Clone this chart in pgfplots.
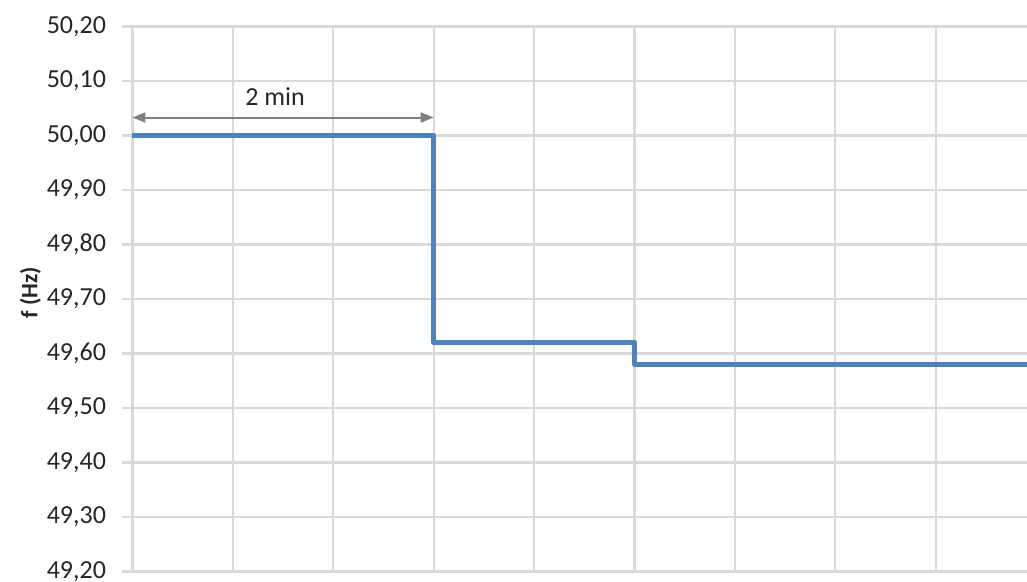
\documentclass[border=0pt]{standalone}
\usepackage{fontspec}
\setmainfont{Carlito}
\usepackage{pgfplots}
\pgfplotsset{compat=1.18}
\usetikzlibrary{arrows.meta}
\definecolor{exblue}{RGB}{79,129,189}
\definecolor{gridc}{RGB}{217,217,217}
\definecolor{arrc}{RGB}{128,128,128}
\definecolor{txt}{RGB}{38,38,38}
\begin{document}
\begin{tikzpicture}
\begin{axis}[
  at={(0,0)}, anchor=south west,
  x=100.4pt, y=545pt,
  xmin=0, xmax=8.92, ymin=49.2, ymax=50.2,
  scale only axis,
  axis line style={draw=none},
  xtick={0,1,...,8}, xticklabels={},
  ytick={49.2,49.3,...,50.21},
  grid=major,
  major grid style={gridc, line width=2.1pt},
  xtick style={draw=none},
  ytick style={gridc, line width=2.1pt},
  tick align=outside,
  major tick length=10pt,
  clip=false,
  yticklabel style={font=\fontsize{26}{30}\selectfont, text=txt, xshift=-13pt},
  /pgf/number format/.cd, fixed, fixed zerofill, precision=2, use comma, 1000 sep={}, assume math mode=true,
  /pgfplots/.cd,
  ylabel={\textbf{f (Hz)}},
  ylabel style={at={(axis description cs:-0.114,0.512)}, anchor=center, rotate=0, font=\fontsize{23.5}{28}\selectfont, text=txt},
]
\addplot[exblue, line width=4.6pt, line join=round, const plot] coordinates {
  (0,50.00) (3,49.62) (5,49.58) (8.92,49.58)
};
\draw[arrc, line width=2pt, {Triangle[length=13pt,width=10pt]}-{Triangle[length=13pt,width=10pt]}] (axis cs:0,50.033) -- (axis cs:3,50.033);
\node[font=\fontsize{26}{30}\selectfont, text=txt] at (axis cs:1.42,50.072) {2 min};
\end{axis}
\pgfresetboundingbox
\path[use as bounding box] (-132.5pt,-9.5pt) rectangle (894.5pt,571.5pt);
\end{tikzpicture}
\end{document}
